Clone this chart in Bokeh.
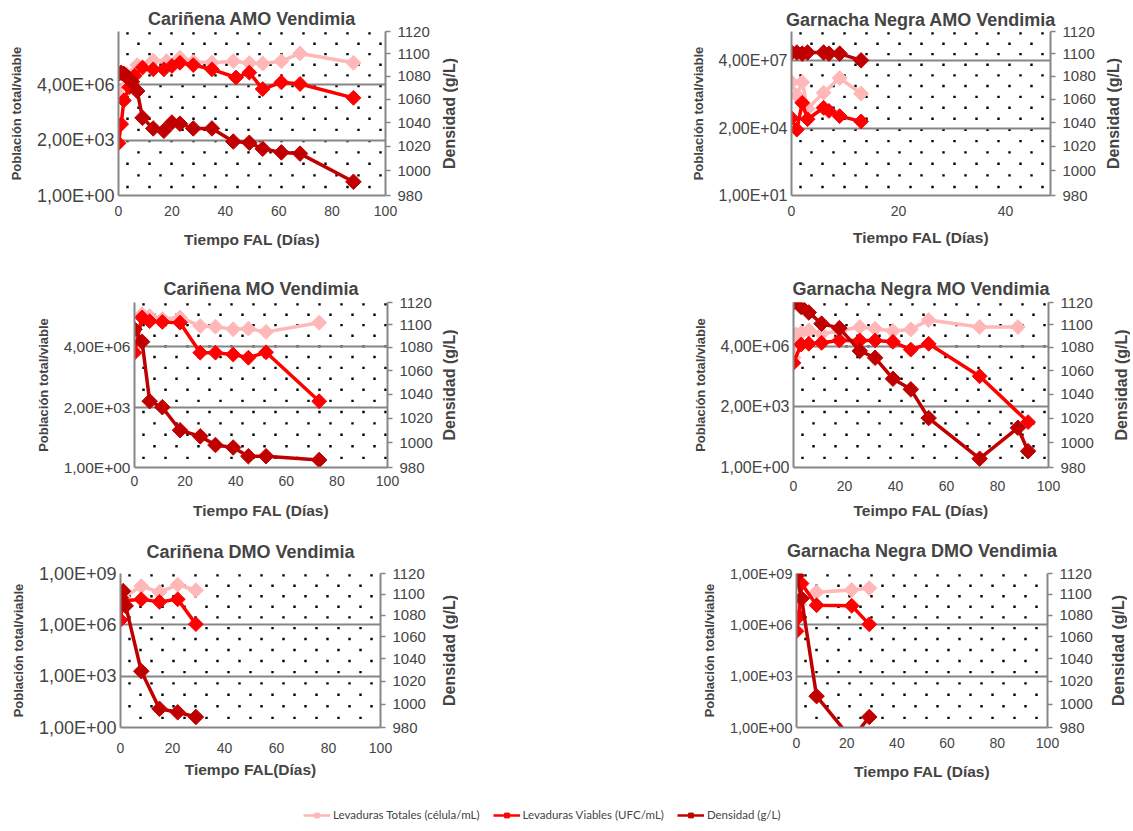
import numpy as np
from bokeh.plotting import figure
from bokeh.models import (Range1d, LinearAxis, FixedTicker, CustomJSTickFormatter,
                          Legend, LegendItem, Spacer)
from bokeh.layouts import column, row
from bokeh.embed import file_html
from bokeh.resources import INLINE

# ---------------- data ----------------
# Cariñena AMO Vendimia
car_amo_tot_x = [0, 3, 7, 13, 18, 23, 28, 35, 43, 49, 54, 61, 68, 88]
car_amo_tot_y = [1.1e6, 1.7e7, 5.9e7, 1.1e8, 1.0e8, 1.6e8, 9.3e7, 8.1e7, 1.0e8, 7.8e7, 7.3e7, 1.0e8, 2.9e8, 8.1e7]
car_amo_via_x = [0, 1, 2, 4, 6, 9, 13, 17, 20, 23, 28, 35, 44, 49, 54, 61, 68, 88]
car_amo_via_y = [1.3e3, 1.8e4, 4.6e5, 2.8e6, 1.35e7, 4.2e7, 3.3e7, 3.3e7, 5.2e7, 8.1e7, 5.9e7, 3.3e7, 1.07e7, 2.1e7, 2.2e6, 5.5e6, 4.4e6, 6.6e5]
car_amo_den_x = [0, 1, 2, 3, 4, 5, 7, 9, 13, 17, 20, 23, 28, 35, 43, 49, 54, 61, 68, 88]
car_amo_den_y = [1082, 1083, 1082, 1080, 1078, 1075, 1067, 1044, 1035, 1033, 1040, 1039, 1035, 1035, 1024, 1023, 1018, 1015, 1014, 991]

# Garnacha Negra AMO Vendimia
gar_amo_tot_x = [0, 1, 2, 3, 6, 9, 13]
gar_amo_tot_y = [3.6e6, 8.0e5, 3.6e6, 1.8e5, 1.1e6, 5.7e6, 1.0e6]
gar_amo_via_x = [0, 1, 2, 3, 6, 7, 9, 13]
gar_amo_via_y = [6.2e4, 1.7e4, 3.5e5, 5.5e4, 2.0e5, 1.4e5, 7.8e4, 4.3e4]
gar_amo_den_x = [0, 1, 2, 3, 6, 7, 9, 13]
gar_amo_den_y = [1101, 1101, 1100, 1101, 1101, 1100, 1100, 1094]

# Cariñena MO Vendimia
car_mo_tot_x = [0, 3, 6, 11, 18, 26, 32, 39, 45, 52, 73]
car_mo_tot_y = [4.0e6, 2.4e8, 1.9e8, 1.3e8, 1.6e8, 5.4e7, 5.0e7, 3.6e7, 3.9e7, 2.6e7, 8.3e7]
car_mo_via_x = [0, 3, 6, 11, 18, 26, 32, 39, 45, 52, 73]
car_mo_via_y = [1.9e6, 1.6e8, 1.0e8, 9.1e7, 8.3e7, 1.9e6, 1.9e6, 1.5e6, 1.0e6, 2.0e6, 4.2e3]
car_mo_den_x = [0, 3, 6, 11, 18, 26, 32, 39, 45, 52, 73]
car_mo_den_y = [1096, 1085, 1034, 1029, 1010, 1005, 998, 996, 989, 989, 986]

# Garnacha Negra MO Vendimia
gar_mo_tot_x = [0, 1, 3, 6, 11, 18, 26, 32, 39, 46, 53, 73, 88]
gar_mo_tot_y = [1.0e6, 1.8e7, 2.2e7, 3.0e7, 2.0e7, 2.8e7, 4.6e7, 3.7e7, 2.8e7, 3.4e7, 1.1e8, 4.6e7, 4.6e7]
gar_mo_via_x = [0, 3, 6, 11, 18, 26, 32, 39, 46, 53, 73, 92]
gar_mo_via_y = [5.1e5, 5.1e6, 5.6e6, 6.3e6, 8.5e6, 8.5e6, 8.5e6, 7.2e6, 2.7e6, 5.6e6, 9.5e4, 3.0e2]
gar_mo_den_x = [0, 3, 6, 11, 18, 26, 32, 39, 46, 53, 73, 88, 92]
gar_mo_den_y = [1120, 1116, 1111, 1101, 1097, 1077, 1071, 1053, 1044, 1020, 987, 1012, 993]

# Cariñena DMO Vendimia
car_dmo_tot_x = [1, 8, 15, 22, 29]
car_dmo_tot_y = [3.9e7, 1.8e8, 8.2e7, 2.2e8, 1.05e8]
car_dmo_via_x = [0, 1, 8, 15, 22, 29]
car_dmo_via_y = [1.9e6, 2.5e7, 3.1e7, 2.2e7, 3.1e7, 1.1e6]
car_dmo_den_x = [0, 1, 2, 8, 15, 22, 29]
car_dmo_den_y = [1097, 1103, 1089, 1029, 996, 993, 989]

# Garnacha Negra DMO Vendimia
gar_dmo_tot_x = [0, 1, 8, 22, 29]
gar_dmo_tot_y = [2.7e6, 1.5e7, 8.1e7, 1.1e8, 1.4e8]
gar_dmo_via_x = [0, 1, 2, 8, 22, 29]
gar_dmo_via_y = [4.2e5, 3.1e6, 2.6e8, 1.4e7, 1.3e7, 1.07e6]
gar_dmo_den_x = [0, 2, 8, 22, 29]
gar_dmo_den_y = [1118, 1096, 1007, 970, 989]

# tick values
ticks_2000 = [1, 2000, 4e6]
ticks_2000_b10 = [10, 2e4, 4e7]
ticks_1000 = [1, 1e3, 1e6, 1e9]
dens_ticks = [980, 1000, 1020, 1040, 1060, 1080, 1100, 1120]
x_ticks_100 = [0, 20, 40, 60, 80, 100]
x_ticks_40 = [0, 20, 40]

series_labels = ["Levaduras Totales (célula/mL)", "Levaduras Viables (UFC/mL)", "Densidad (g/L)"]
dens_label = "Densidad (g/L)"

PINK = "#FFB7B7"
RED = "#FF0000"
DARK = "#C00000"
GRAY = "#868686"
FONT = "Liberation Sans"
DMIN, DMAX = 980, 1120

fmt = CustomJSTickFormatter(code="""
    const e = Math.floor(Math.log10(tick) + 1e-9);
    const m = tick / Math.pow(10, e);
    return m.toFixed(2).replace('.', ',') + 'E+' + (e < 10 ? '0' + e : '' + e);
""")


def dot_pattern(xmax, fw, fh):
    """background dotted fill (decoration): staggered 22px x 11px lattice"""
    xs, ys = [], []
    j = 0
    yp = 2.0
    while yp < fh - 1:
        xp = 9.0 if j % 2 == 0 else 20.0
        while xp < fw - 1:
            xs.append(xp / fw * xmax)
            ys.append(DMAX - yp / fh * (DMAX - DMIN))
            xp += 22
        yp += 11
        j += 1
    return xs, ys


def make_chart(title, xlabel, tot, via, den, xmax, xticks, ymin, ymax, yticks,
               w, h, bl, br, bt, bb, ylab_size, xstand, xlabstand, tstand):
    p = figure(width=w, height=h, output_backend="svg", toolbar_location=None,
               y_axis_type="log", x_range=Range1d(0, xmax), y_range=Range1d(ymin, ymax),
               min_border_left=bl, min_border_right=br, min_border_top=bt, min_border_bottom=bb)
    p.outline_line_color = None
    p.background_fill_color = "white"
    p.extra_y_ranges = {"dens": Range1d(DMIN, DMAX)}
    fw = w - bl - br
    fh = h - bt - bb

    p.title.text = title
    p.title.align = "center"
    p.title.text_font = FONT
    p.title.text_font_size = "18px"
    p.title.text_font_style = "bold"
    p.title.standoff = tstand

    dx, dy = dot_pattern(xmax, fw, fh)
    p.scatter(dx, dy, y_range_name="dens", marker="square", size=2.4,
              fill_color="black", line_color=None, level="underlay")

    p.xgrid.visible = False
    p.ygrid.grid_line_color = GRAY
    p.ygrid.grid_line_width = 2

    xa = p.xaxis[0]
    xa.ticker = FixedTicker(ticks=xticks)
    xa.axis_label = xlabel
    xa.axis_label_text_font = FONT
    xa.axis_label_text_font_size = "15.5px"
    xa.axis_label_text_font_style = "bold"
    xa.axis_label_standoff = xlabstand
    xa.major_label_text_font = FONT
    xa.major_label_text_font_size = "14px"
    xa.major_label_standoff = xstand
    xa.major_tick_out = 0
    xa.major_tick_in = 0
    xa.minor_tick_out = 0
    xa.minor_tick_in = 0
    xa.axis_line_color = GRAY
    xa.axis_line_width = 2

    ya = p.yaxis[0]
    ya.ticker = FixedTicker(ticks=yticks)
    ya.formatter = fmt
    ya.axis_label = "Población total/viable"
    ya.axis_label_text_font = FONT
    ya.axis_label_text_font_size = "13px"
    ya.axis_label_text_font_style = "bold"
    ya.axis_label_standoff = 10
    ya.major_label_text_font = FONT
    ya.major_label_text_font_size = ylab_size
    ya.major_label_standoff = 4
    ya.major_tick_out = 0
    ya.major_tick_in = 0
    ya.minor_tick_out = 0
    ya.minor_tick_in = 0
    ya.axis_line_color = GRAY
    ya.axis_line_width = 2

    ra = LinearAxis(y_range_name="dens", ticker=FixedTicker(ticks=dens_ticks))
    ra.major_label_text_font = FONT
    ra.major_label_text_font_size = "15px"
    ra.major_label_standoff = 7
    ra.major_tick_out = 5
    ra.major_tick_in = 0
    ra.major_tick_line_color = GRAY
    ra.major_tick_line_width = 1.5
    ra.minor_tick_out = 0
    ra.axis_line_color = GRAY
    ra.axis_line_width = 2
    p.add_layout(ra, "right")

    p.line(tot[0], tot[1], line_color=PINK, line_width=3.5)
    p.scatter(tot[0], tot[1], marker="square", angle=np.pi / 4, size=10.5,
              fill_color=PINK, line_color=PINK)
    p.line(via[0], via[1], line_color=RED, line_width=3.5)
    p.scatter(via[0], via[1], marker="square", angle=np.pi / 4, size=10.5,
              fill_color=RED, line_color=RED)
    p.line(den[0], den[1], line_color=DARK, line_width=3.5, y_range_name="dens")
    p.scatter(den[0], den[1], marker="square", angle=np.pi / 4, size=11,
              fill_color=DARK, line_color=DARK, y_range_name="dens")
    return p


def right_title(h, bt, bb):
    """narrow strip carrying the secondary-axis title, read bottom-to-top"""
    t = figure(width=20, height=h, output_backend="svg", toolbar_location=None,
               x_range=Range1d(0, 1), y_range=Range1d(0, 1),
               x_axis_location=None, y_axis_location=None, title_location="left",
               min_border_left=0, min_border_right=0, min_border_top=bt, min_border_bottom=bb)
    t.outline_line_color = None
    t.grid.visible = False
    t.title.text = dens_label
    t.title.align = "center"
    t.title.text_font = FONT
    t.title.text_font_size = "16px"
    t.title.text_font_style = "bold"
    t.title.standoff = 0
    return t


H1, H2, H3, HL = 265, 259, 271, 34
BT1, BB1 = 31, 70
BT2, BB2 = 37, 57
BT3, BB3 = 49, 68

p1 = make_chart("Cariñena AMO Vendimia", "Tiempo FAL (Días)",
                (car_amo_tot_x, car_amo_tot_y), (car_amo_via_x, car_amo_via_y), (car_amo_den_x, car_amo_den_y),
                100, x_ticks_100, 1, 5.9e9, ticks_2000,
                438, H1, 118, 53, BT1, BB1, "18px", 10, 12, 5)
p2 = make_chart("Garnacha Negra AMO Vendimia", "Tiempo FAL (Días)",
                (gar_amo_tot_x, gar_amo_tot_y), (gar_amo_via_x, gar_amo_via_y), (gar_amo_den_x, gar_amo_den_y),
                48.4, x_ticks_40, 10, 1.1e9, ticks_2000_b10,
                442, H1, 131, 52, BT1, BB1, "16px", 10, 10, 4)
p3 = make_chart("Cariñena MO Vendimia", "Tiempo FAL (Días)",
                (car_mo_tot_x, car_mo_tot_y), (car_mo_via_x, car_mo_via_y), (car_mo_den_x, car_mo_den_y),
                100, x_ticks_100, 1, 1.05e9, ticks_2000,
                438, H2, 134, 51, BT2, BB2, "15.5px", 8, 13, 8)
p4 = make_chart("Garnacha Negra MO Vendimia", "Teimpo FAL (Días)",
                (gar_mo_tot_x, gar_mo_tot_y), (gar_mo_via_x, gar_mo_via_y), (gar_mo_den_x, gar_mo_den_y),
                100, x_ticks_100, 1, 1.0e9, ticks_2000,
                450, H2, 133, 62, BT2, BB2, "16px", 13, 8, 8)
p5 = make_chart("Cariñena DMO Vendimia", "Tiempo FAL(Días)",
                (car_dmo_tot_x, car_dmo_tot_y), (car_dmo_via_x, car_dmo_via_y), (car_dmo_den_x, car_dmo_den_y),
                100, x_ticks_100, 1, 1e9, ticks_1000,
                438, H3, 120, 58, BT3, BB3, "18px", 15, 5, 24)
p6 = make_chart("Garnacha Negra DMO Vendimia", "Tiempo FAL (Días)",
                (gar_dmo_tot_x, gar_dmo_tot_y), (gar_dmo_via_x, gar_dmo_via_y), (gar_dmo_den_x, gar_dmo_den_y),
                100, x_ticks_100, 1, 1e9, ticks_1000,
                447, H3, 136, 60, BT3, BB3, "14.5px", 10, 12, 26)

# legend strip (its renderers sit outside the visible range; only the legend shows)
pl = figure(width=1130, height=HL, output_backend="svg", toolbar_location=None,
            x_range=Range1d(-2, -1), y_range=Range1d(-2, -1),
            min_border=0, outline_line_color=None)
pl.axis.visible = False
pl.grid.visible = False
items = []
for lab, col, (sx, sy) in zip(series_labels, [PINK, RED, DARK],
                              [(car_amo_tot_x, car_amo_tot_y), (car_amo_via_x, car_amo_via_y),
                               (car_amo_den_x, car_amo_den_y)]):
    l = pl.line(sx, sy, line_color=col, line_width=2.5)
    s = pl.scatter(sx, sy, marker="square", angle=np.pi / 4, size=5.5, fill_color=col, line_color=col)
    items.append(LegendItem(label=lab, renderers=[l, s]))
leg = Legend(items=items, orientation="horizontal", location=(298, 3),
             label_text_font="Lato", label_text_font_size="11.5px",
             glyph_width=27, glyph_height=12, label_standoff=3, spacing=13,
             padding=5, margin=0, border_line_alpha=0, background_fill_alpha=0)
pl.add_layout(leg, "center")

layout = column(
    row(p1, right_title(H1, BT1, BB1), Spacer(width=202), p2, right_title(H1, BT1, BB1)),
    row(p3, right_title(H2, BT2, BB2), Spacer(width=202), p4, right_title(H2, BT2, BB2)),
    row(p5, right_title(H3, BT3, BB3), Spacer(width=202), p6, right_title(H3, BT3, BB3)),
    pl)

open("out.html", "w").write(file_html(layout, INLINE))
